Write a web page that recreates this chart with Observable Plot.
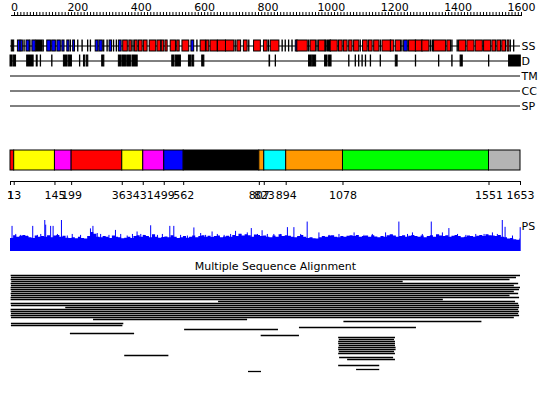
<!DOCTYPE html>
<html><head><meta charset="utf-8">
<script src="https://cdn.jsdelivr.net/npm/d3@7"></script>
<script src="https://cdn.jsdelivr.net/npm/@observablehq/plot@0.6"></script>
<style>
body{margin:0;background:#fff;}
#chart{position:relative;width:550px;height:393px;overflow:hidden;font-family:"DejaVu Sans";}
#chart svg{position:absolute;left:0;}
</style></head><body><div id="chart"></div>
<script>
const LEN = 1653;
const rulerLabels = [0,200,400,600,800,1000,1200,1400,1600];
const rulerStep = 10;
const tracks = ["SS","D","TM","CC","SP"];
const ssColors = {H:"#ff0000", E:"#0000ff", C:"#000000"};
// secondary structure elements [start, end, type]
const ssSegments = [
[5,12,"C"],[25,32,"E"],[34,40,"E"],[46,46,"C"],[53,62,"E"],[65,65,"C"],[72,82,"E"],[85,104,"C"],[108,108,"C"],
[120,131,"E"],[136,147,"E"],[153,163,"E"],[169,175,"E"],[185,191,"E"],[196,196,"C"],[204,209,"E"],[220,220,"C"],[234,234,"C"],[252,252,"C"],[261,261,"C"],[277,285,"E"],[289,299,"E"],[304,304,"C"],[315,315,"C"],[322,329,"E"],[336,336,"C"],[345,345,"C"],[352,360,"E"],
[366,380,"H"],[386,393,"H"],[399,399,"C"],[404,412,"H"],[417,428,"H"],[433,444,"H"],[452,472,"H"],[477,488,"H"],[491,498,"H"],[503,509,"H"],[520,536,"H"],[541,548,"H"],[558,579,"H"],[587,595,"E"],[606,606,"C"],[617,633,"H"],[636,644,"H"],[649,671,"H"],[673,698,"H"],[699,725,"H"],[730,730,"C"],[736,747,"H"],[757,768,"H"],[774,774,"C"],[790,811,"H"],[822,833,"H"],[838,838,"C"],[844,871,"H"],
[882,882,"C"],[892,892,"C"],[903,903,"C"],[914,914,"C"],[925,930,"E"],[930,963,"H"],[968,968,"C"],[973,990,"H"],[995,995,"C"],[1000,1020,"H"],[1022,1022,"C"],[1027,1038,"C"],[1038,1060,"H"],[1065,1076,"H"],[1081,1092,"H"],[1098,1108,"H"],[1114,1130,"H"],[1135,1135,"C"],[1143,1157,"H"],[1162,1173,"H"],[1179,1195,"H"],[1200,1200,"C"],[1206,1233,"H"],[1233,1243,"H"],[1249,1265,"H"],[1270,1270,"C"],[1276,1287,"E"],[1292,1314,"H"],[1314,1335,"H"],[1335,1357,"H"],[1362,1362,"C"],[1368,1370,"E"],[1373,1411,"H"],[1416,1427,"H"],[1432,1432,"C"],[1449,1449,"C"],[1454,1476,"H"],[1481,1503,"H"],[1508,1530,"H"],[1535,1557,"H"],[1562,1573,"H"],[1578,1589,"H"],[1594,1605,"H"],[1611,1616,"H"],[1621,1621,"C"],[1632,1632,"C"]
];
// disordered regions [start, end]
const disorder = [
[1,7],[12,18],[55,75],[86,88],[99,99],[136,136],[174,185],[190,199],[226,226],[239,242],[248,252],[298,304],[352,358],[363,374],[379,390],[396,412],[525,531],[536,552],[579,585],[590,595],[622,628],[840,841],
[860,860],[968,976],[980,990],[1020,1027],[1033,1040],[1098,1098],[1119,1119],[1130,1130],[1141,1141],[1152,1152],[1168,1168],[1200,1200],[1249,1254],[1314,1314],[1389,1389],[1432,1432],[1459,1465],[1551,1551],[1616,1653]
];
// domain architecture [start, end, colour]
const domains = [
[1,13,"#ff0000"],[13,145,"#ffff00"],[145,199,"#ff00ff"],[199,363,"#ff0000"],[363,431,"#ffff00"],[431,499,"#ff00ff"],[499,562,"#0000ff"],[562,807,"#000000"],[807,823,"#ff9900"],[823,894,"#00ffff"],[894,1078,"#ff9900"],[1078,1551,"#00ff00"],[1551,1653,"#b4b4b4"]
];
const domainTicks = [1,13,145,199,363,431,499,562,807,823,894,1078,1551,1653];
// PS profile: one value per 10 residues
const psBase = [
0.42,0.51,0.46,0.49,0.52,0.48,0.44,0.42,0.50,0.46,
0.48,0.46,0.51,0.44,0.50,0.52,0.46,0.49,0.43,0.42,
0.44,0.41,0.46,0.42,0.40,0.48,0.61,0.56,0.46,0.44,
0.48,0.46,0.42,0.50,0.46,0.44,0.41,0.43,0.46,0.42,
0.48,0.51,0.46,0.52,0.48,0.44,0.54,0.46,0.43,0.45,
0.47,0.44,0.51,0.46,0.42,0.44,0.48,0.43,0.46,0.50,
0.44,0.48,0.51,0.46,0.49,0.45,0.48,0.50,0.44,0.47,
0.49,0.46,0.52,0.48,0.56,0.50,0.54,0.51,0.46,0.53,
0.52,0.48,0.50,0.46,0.44,0.50,0.46,0.54,0.48,0.51,
0.49,0.46,0.44,0.48,0.52,0.46,0.42,0.44,0.41,0.40,
0.44,0.48,0.46,0.50,0.51,0.46,0.44,0.48,0.46,0.49,
0.51,0.48,0.52,0.46,0.48,0.50,0.46,0.51,0.47,0.44,
0.48,0.46,0.51,0.54,0.50,0.46,0.48,0.51,0.46,0.49,
0.52,0.48,0.46,0.50,0.44,0.48,0.51,0.46,0.54,0.50,
0.48,0.51,0.46,0.49,0.52,0.48,0.44,0.46,0.50,0.48,
0.46,0.49,0.52,0.48,0.54,0.51,0.50,0.48,0.52,0.46,
0.44,0.40,0.42,0.38,0.36,0.40
];
// PS spikes [residue, value]
const psSpikes = [
[6,0.81],[18,0.55],[34,0.52],[55,0.5],[73,0.81],[88,0.52],[99,0.55],[112,1.0],[115,0.85],[131,0.81],[139,0.81],[153,0.55],[166,1.0],[185,0.5],[201,0.55],[228,0.52],[260,0.73],[268,0.81],[282,0.58],[293,0.55],[320,0.52],[341,0.68],[358,0.55],[379,0.5],[396,0.55],[411,0.63],[423,0.55],[433,0.52],[455,0.83],[477,0.52],[493,0.55],[517,0.81],[530,0.81],[552,0.52],[574,0.5],[595,0.76],[617,0.58],[633,0.52],[654,0.63],[671,0.55],[693,0.52],[714,0.55],[730,0.65],[747,0.55],[768,0.6],[781,0.74],[801,0.55],[816,0.67],[833,0.55],[854,0.55],
[876,0.55],[898,0.77],[919,0.77],[941,0.55],[962,0.95],[1000,0.6],[1033,0.52],[1065,0.55],[1114,0.6],[1146,0.52],[1173,0.55],[1216,0.6],[1238,0.52],[1259,0.95],[1287,0.55],[1303,0.6],[1335,0.55],[1364,0.95],[1400,0.6],[1421,0.74],[1449,0.55],[1476,0.52],[1508,0.55],[1535,0.55],[1562,0.6],[1578,0.55],[1594,1.0],[1603,0.78],[1627,0.5],[1652,0.77]
];
// multiple sequence alignment rows [row, start, end]
const msaRows = [
[0,3,1653],[1,4,1640],[2,3,1619],[3,5,1273],[4,3,1647],[5,4,1633],[6,3,1653],[7,3,1650],[8,5,1633],[9,3,1647],[10,4,1619],[11,3,1650],[12,3,1403],[13,675,1637],[14,3,1647],[15,4,1650],[16,180,1650],[17,3,1647],[18,3,1650],[19,4,1647],[20,3,1650],[21,4,1633],
[22,270,769],[23,1081,1528],[24,4,368],[25,4,365],[26,937,1316],[27,565,869],[29,195,403],[30,813,937],
[31,1064,1248],[32,1066,1245],[33,1064,1248],[34,1064,1248],[35,1066,1248],[36,1064,1250],[37,1064,1250],[38,1066,1245],[39,1064,1248],
[40,371,514],[41,1067,1242],[42,1093,1248],[45,1064,1197],[47,1122,1197],[48,772,814]
];
const msaTitle = "Multiple Sequence Alignment";

const chart = document.getElementById("chart");
const baseStyle = {fontFamily:"DejaVu Sans", fontSize:"11px", background:"transparent", overflow:"visible"};
function place(svg, top){ svg.style.top = top + "px"; chart.appendChild(svg); }

// ruler
place(Plot.plot({
  width:550, height:20, marginTop:0, marginBottom:5, marginLeft:11, marginRight:29,
  style: baseStyle,
  x:{domain:[0,1600], range:[14,521], axis:null},
  marks:[
    Plot.frame({anchor:"bottom", stroke:"black"}),
    Plot.tickX(d3.range(0, 1601, rulerStep), {x:d=>d, insetTop:12, stroke:"black"}),
    Plot.text(rulerLabels, {x:d=>d, text:d=>String(d), frameAnchor:"bottom", lineAnchor:"bottom", dy:-5, fontSize:11, fill:"black"})
  ]
}), 0);

// feature tracks
place(Plot.plot({
  width:550, height:90, marginTop:0, marginBottom:0, marginLeft:10, marginRight:30,
  style: baseStyle,
  x:{domain:[1,LEN], axis:null},
  y:{type:"band", domain:tracks, range:[7.5,82.5], padding:0, axis:null},
  marks:[
    Plot.ruleY(tracks, {y:d=>d, stroke:"black", strokeWidth:1}),
    Plot.barX(ssSegments, {x1:d=>d[0], x2:d=>d[1]+1, y:()=>"SS", fill:d=>ssColors[d[2]], stroke:"black", strokeWidth:1, insetTop:2, insetBottom:2}),
    Plot.barX(disorder, {x1:d=>d[0], x2:d=>d[1]+1, y:()=>"D", fill:"black", stroke:"black", strokeWidth:1, insetTop:2, insetBottom:2}),
    Plot.text(tracks, {x:LEN, y:d=>d, text:d=>d, textAnchor:"start", dx:1, fontSize:11, fill:"black"})
  ]
}), 30);

// domain bar
place(Plot.plot({
  width:550, height:65, marginTop:10, marginBottom:24, marginLeft:10, marginRight:30,
  style: baseStyle,
  x:{domain:[1,LEN], axis:null},
  marks:[
    Plot.barX(domains, {x1:d=>d[0], x2:d=>d[1], fill:d=>d[2], stroke:"black", strokeWidth:1, insetBottom:11}),
    Plot.frame({anchor:"bottom", stroke:"black"}),
    Plot.axisX(domainTicks, {tickSize:4, tickPadding:6, tickFormat:d=>String(d), fontSize:11, fill:"black", stroke:"black"})
  ]
}), 140);

// PS profile
const psTable = psBase.map((v,i)=>({x:1+i*10, v})).concat([{x:LEN, v:psBase[psBase.length-1]}]);
place(Plot.plot({
  width:550, height:45, marginTop:10, marginBottom:4, marginLeft:10, marginRight:30,
  style: baseStyle,
  x:{domain:[1,LEN], axis:null},
  y:{domain:[0,1], axis:null},
  marks:[
    Plot.areaY(psTable, {x:"x", y:"v", curve:"step-after", fill:"#0000ff"}),
    Plot.ruleX(psSpikes, {x:d=>d[0], y1:0, y2:d=>d[1], stroke:"#0000ff", strokeWidth:1}),
    Plot.text(["PS"], {frameAnchor:"top-right", textAnchor:"start", lineAnchor:"top", dx:1, dy:2, fontSize:11, fill:"black"})
  ]
}), 210);

// MSA
place(Plot.plot({
  width:550, height:138, marginTop:20, marginBottom:0, marginLeft:10, marginRight:30,
  style: baseStyle,
  x:{domain:[1,LEN], axis:null},
  y:{domain:[0,48], range:[20,116], axis:null},
  marks:[
    Plot.text([msaTitle], {frameAnchor:"top", lineAnchor:"bottom", dx:10, dy:-6, fontSize:11, fill:"black"}),
    Plot.ruleY(msaRows, {y:d=>d[0], x1:d=>d[1], x2:d=>d[2], stroke:"black", strokeWidth:1.3})
  ]
}), 255);
</script></body></html>
